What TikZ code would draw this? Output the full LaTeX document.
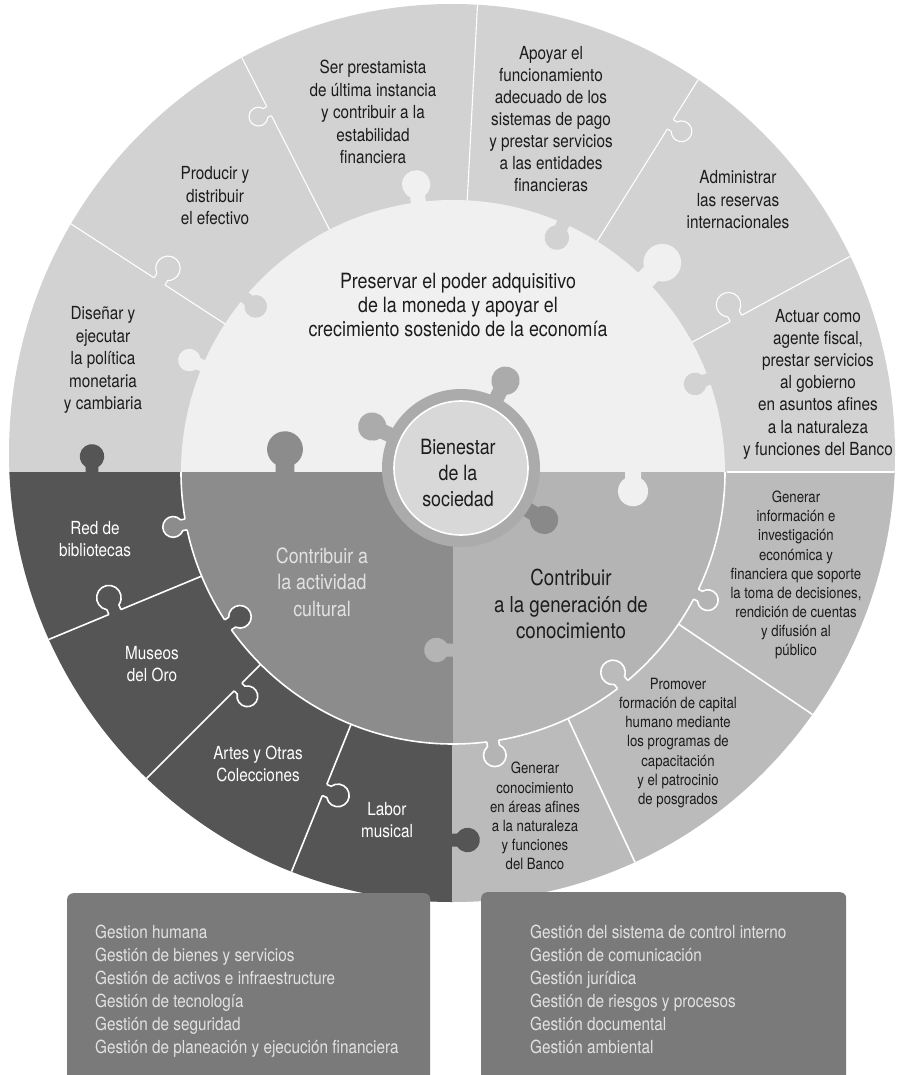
\documentclass[tikz,border=0pt]{standalone}
\usepackage{fontspec}
\setmainfont[FakeStretch=0.85]{TeX Gyre Heros}
\usetikzlibrary{calc}

\definecolor{upring}{HTML}{D2D2D2}
\definecolor{upinner}{HTML}{F0F0F0}
\definecolor{darkring}{HTML}{555555}
\definecolor{culture}{HTML}{8C8C8C}
\definecolor{lowring}{HTML}{BBBBBB}
\definecolor{knowledge}{HTML}{B4B4B4}
\definecolor{bienring}{HTML}{ABABAB}
\definecolor{biencore}{HTML}{D8D8D8}
\definecolor{boxgray}{HTML}{7A7A7A}
\definecolor{boxtext}{HTML}{E2E2E2}
\definecolor{ink}{HTML}{1C1C1C}

% filled puzzle tab: base point, direction, size, colour
\newcommand{\puzzletab}[4]{%
  \fill[#4, shift={#1}, rotate={-1*(#2)}, scale=#3] (-3,-5) -- (4,-5)
    arc[start angle=-148, end angle=148, radius=9.43] -- (-3,5) -- cycle;}
% tab cut into a white seam
\newcommand{\seamtab}[4]{%
  \begin{scope}[shift={#1}, rotate={-1*(#2)}, scale=#3]
    \fill[#4] (-1.5,-5) -- (4,-5) arc[start angle=-148, end angle=148, radius=9.43] -- (-1.5,5) -- cycle;
    \draw[seam] (0,-5) -- (4,-5) arc[start angle=-148, end angle=148, radius=9.43] -- (0,5);
  \end{scope}}

\begin{document}
\begin{tikzpicture}[x=1pt, y=-1pt]
  \tikzstyle{seam}=[white, line width=1.6pt]
  \tikzstyle{thinseam}=[seam, line width=1.1pt]
  \tikzstyle{lbl}=[align=center, inner sep=0pt, text=ink, font=\fontsize{18}{22.5}\selectfont]
  \tikzstyle{wlbl}=[lbl, text=white]
  \tikzstyle{smalllbl}=[lbl, font=\fontsize{15.5}{19.1}\selectfont]
  \tikzstyle{biglbl}=[lbl, font=\fontsize{21}{24}\selectfont]
  \tikzstyle{gbox}=[fill=boxgray, rounded corners=6pt, inner sep=0pt, anchor=north west]
  \tikzstyle{boxlines}=[align=left, inner sep=0pt, text=boxtext, anchor=north west, font=\fontsize{18}{23}\selectfont]

  \useasboundingbox (0,0) rectangle (896,1075);
  \coordinate (C) at (453,472);
  \coordinate (B) at (461,468);

  % the wheel
  \begin{scope}
    \clip (452,453) ellipse[x radius=443, y radius=449];
    \fill[upring] (0,0) rectangle (896,910);
    \fill[darkring] (0,472) rectangle (452,910);
    \fill[lowring] (452,472) rectangle (896,910);
    \fill[upinner] ($(C)+(-272,0)$) arc[start angle=180, end angle=360, radius=272] -- cycle;
    \fill[culture] (C) -- ++(-272,0) arc[start angle=180, end angle=90, radius=272] -- cycle;
    \fill[knowledge] (C) -- ++(272,0) arc[start angle=0, end angle=90, radius=272] -- cycle;

    \draw[seam] ($(C)+(90:272)$) arc[start angle=90, end angle=180, radius=272];
    \draw[seam] ($(C)+(0:272)$) arc[start angle=0, end angle=90, radius=272];
    \draw[thinseam] (727,472) -- (896,472);
    \foreach \a in {-147,-117,-87,-58,-28.5}
      \draw[thinseam] ($(C)+(\a:272)$) -- ($(C)+(\a:470)$);
    \foreach \a in {34,65,112,135,157.5}
      \draw[seam] ($(C)+(\a:272)$) -- ($(C)+(\a:470)$);

    \tikzstyle{seam}=[white, line width=1.1pt]
    \seamtab{($(C)+(-147:350)$)}{-57}{1.3}{upring}
    \seamtab{($(C)+(-117:405)$)}{-207}{1}{upring}
    \seamtab{($(C)+(-58:410)$)}{32}{1.1}{upring}
    \seamtab{($(C)+(-28.5:322)$)}{-118.5}{1.3}{upring}
    \tikzstyle{seam}=[white, line width=1.6pt]
    \seamtab{($(C)+(157.5:366)$)}{247.5}{1.3}{darkring}
    \seamtab{($(C)+(135:304)$)}{45}{1.1}{darkring}
    \seamtab{($(C)+(112:343)$)}{22}{1.2}{darkring}
    \seamtab{($(C)+(145.8:272)$)}{-34.2}{1.2}{darkring}
    \seamtab{($(C)+(168.9:272)$)}{168.9}{1.1}{culture}
    \seamtab{($(C)+(26.7:272)$)}{26.7}{1.1}{knowledge}
    \seamtab{($(C)+(51.4:272)$)}{231.4}{1.3}{lowring}
    \seamtab{($(C)+(81.6:272)$)}{81.6}{1.2}{knowledge}

    \puzzletab{($(C)+(-97.3:272)$)}{-97.3}{1.5}{upinner}
    \puzzletab{($(C)+(-66.1:272)$)}{113.9}{1.3}{upring}
    \puzzletab{($(C)+(-45:272)$)}{-45}{2}{upinner}
    \puzzletab{($(C)+(-20:272)$)}{160}{1.2}{upring}
    \puzzletab{($(C)+(-157:272)$)}{-157}{1.2}{upinner}
    \puzzletab{($(C)+(-140:272)$)}{40}{1.2}{upring}
    \puzzletab{(92,472)}{-90}{1.3}{darkring}
    \puzzletab{(285,472)}{-90}{1.9}{culture}
    \puzzletab{(633,472)}{90}{1.6}{upinner}
    \puzzletab{(452,650)}{180}{1.3}{knowledge}
    \puzzletab{(452,840)}{0}{1.3}{darkring}
  \end{scope}

  % centre piece
  \puzzletab{($(B)+(-63:80)$)}{-63}{1.5}{bienring}
  \puzzletab{($(B)+(-155:80)$)}{-155}{1.5}{bienring}
  \puzzletab{($(B)+(32:80)$)}{32}{1.5}{bienring!80!black}
  \fill[bienring] (B) circle[radius=79];
  \fill[biencore] (B) circle[radius=67];
  \draw[seam] (B) circle[radius=67];

  \node[biglbl] (pres) at (458,305) {Preservar el poder adquisitivo\\de la moneda y apoyar el\\crecimiento sostenido de la economía};
  \node[biglbl, font=\fontsize{21}{26}\selectfont] (bien) at (458,473) {Bienestar\\de la\\sociedad};

  \node[lbl] (disenar) at (103,360) {Diseñar y\\ejecutar\\la política\\monetaria\\y cambiaria};
  \node[lbl] (producir) at (215,196) {Producir y\\distribuir\\el efectivo};
  \node[lbl] (prestamista) at (373,112) {Ser prestamista\\de última instancia\\y contribuir a la\\estabilidad\\financiera};
  \node[lbl, font=\fontsize{18}{22}\selectfont] (pagos) at (551,119) {Apoyar el\\funcionamiento\\adecuado de los\\sistemas de pago\\y prestar servicios\\a las entidades\\financieras};
  \node[lbl] (reservas) at (738,200) {Administrar\\las reservas\\internacionales};
  \node[lbl, font=\fontsize{18}{22.2}\selectfont] (fiscal) at (818,384) {Actuar como\\agente fiscal,\\prestar servicios\\al gobierno\\en asuntos afines\\a la naturaleza\\y funciones del Banco};

  \node[wlbl] (bibliotecas) at (95,539) {Red de\\bibliotecas};
  \node[wlbl] (museos) at (152,664) {Museos\\del Oro};
  \node[wlbl] (artes) at (258,764) {Artes y Otras\\Colecciones};
  \node[wlbl] (musical) at (387,820) {Labor\\musical};
  \node[biglbl, text=boxtext, font=\fontsize{21}{26.5}\selectfont] (cultural) at (322,582) {Contribuir a\\la actividad\\cultural};

  \node[biglbl, font=\fontsize{22}{26.5}\selectfont] (conocimiento) at (571,604) {Contribuir\\a la generación de\\conocimiento};
  \node[smalllbl] (investigacion) at (796,575) {Generar\\información e\\investigación\\económica y\\financiera que soporte\\la toma de decisiones,\\rendición de cuentas\\y difusión al\\público};
  \node[smalllbl] (capital) at (678,743) {Promover\\formación de capital\\humano mediante\\los programas de\\capacitación\\y el patrocinio\\de posgrados};
  \node[smalllbl] (areas) at (535,816) {Generar\\conocimiento\\en áreas afines\\a la naturaleza\\y funciones\\del Banco};

  % support processes
  \node[gbox, minimum width=363pt, minimum height=192pt] (lbox) at (67,893) {};
  \node[gbox, minimum width=365pt, minimum height=193pt] (rbox) at (481,892) {};
  \node[boxlines] (ltext) at ($(lbox.north west)+(28,32)$) {Gestion humana\\Gestión de bienes y servicios\\Gestión de activos e infraestructure\\Gestión de tecnología\\Gestión de seguridad\\Gestión de planeación y ejecución financiera};
  \node[boxlines] (rtext) at ($(rbox.north west)+(49,33)$) {Gestión del sistema de control interno\\Gestión de comunicación\\Gestión jurídica\\Gestión de riesgos y procesos\\Gestión documental\\Gestión ambiental};
\end{tikzpicture}
\end{document}
